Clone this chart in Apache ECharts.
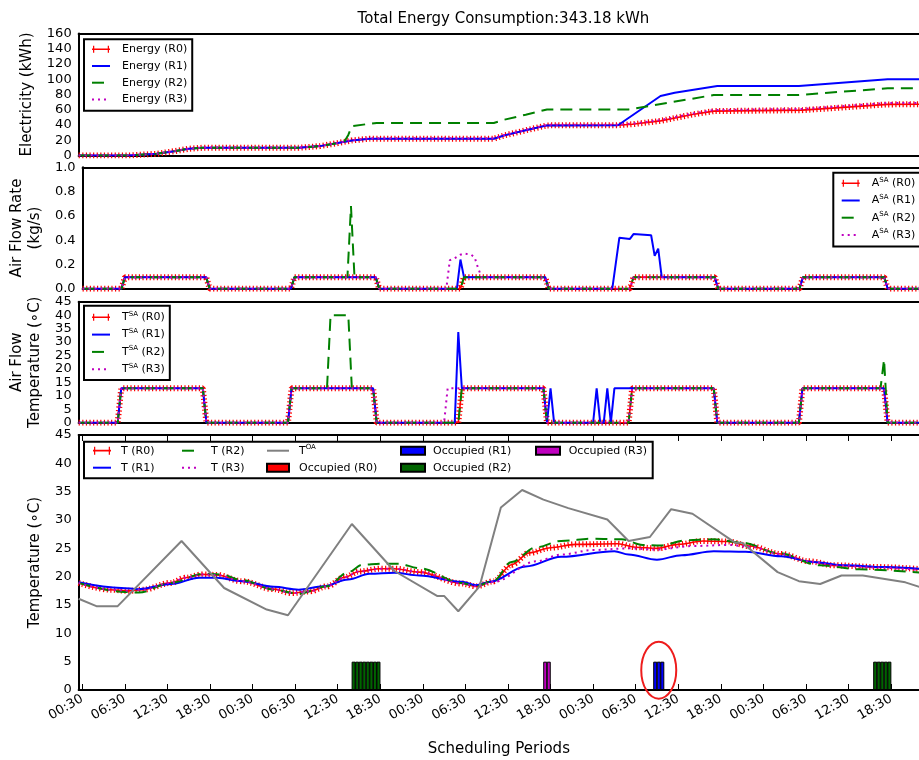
<!DOCTYPE html>
<html>
<head>
<meta charset="utf-8">
<script src="https://cdn.jsdelivr.net/npm/echarts@6/dist/echarts.min.js"></script>
<style>html,body{margin:0;padding:0;background:#fff}#main{width:919px;height:760px}</style>
</head>
<body>
<div id="main"></div>
<script>
// ---------- data (x = half-hour scheduling slot index, y = value) ----------
const slotMinutes = 30;
const visibleSlots = 236.85;    // part of the 5-day axis that is inside the picture
const labelEvery = 12;          // a tick label every 6 h
const labelOffset = 1;          // first label at 00:30
const lastLabelSlot = 229;
const titleText = 'Total Energy Consumption:343.18 kWh';

const energyR0 = [[0,0],[14,0],[22,2.2],[27,5.7],[31,8.8],[35,10.2],[62,10.2],[68,12.3],[73,16.3],[77,19.8],[82,22],[117,22],[120,26.4],[126,33],[132,39.5],[152,39.7],[156,41],[164,45.4],[173,53.8],[179,58.2],[204,59.5],[228,67],[240,67.3]];
const energyR1 = [[0,0],[14,0],[22,2.2],[27,5.7],[31,8.8],[35,10.2],[62,10.2],[68,12.3],[73,16.3],[77,19.8],[82,22],[117,22],[120,26.4],[126,33],[132,39.5],[152,39.7],[164,78],[168,82.4],[180,91.2],[203,91.2],[228,100],[240,100]];
const energyR2 = [[0,0],[14,0],[22,2.2],[27,5.7],[31,8.8],[35,10.2],[62,10.2],[68,12.3],[73,16.3],[75,19],[76,27],[77,38.3],[81,41],[84,42.7],[117,42.7],[120,47],[126,53.5],[132,60.4],[155,60.4],[179,79.3],[203,79.3],[228,88.2],[240,88.2]];
const energyR3 = [[0,0],[14,0],[22,2.3],[27,5.9],[31,9.1],[35,10.5],[62,10.5],[68,12.6],[73,16.6],[77,20.2],[82,22.5],[117,22.5],[120,27],[126,33.6],[132,40.2],[152,40.4],[156,41.8],[164,46.5],[173,55],[179,59.6],[204,61],[228,68.8],[240,69]];

const flowR0 = [[0,0],[11,0],[12,0.095],[35,0.095],[36,0],[59,0],[60,0.095],[83,0.095],[84,0],[107,0],[108,0.095],[131,0.095],[132,0],[155,0],[156,0.095],[179,0.095],[180,0],[203,0],[204,0.095],[227,0.095],[228,0],[240,0]];
const flowR1 = [[0,0],[11,0],[12,0.095],[35,0.095],[36,0],[59,0],[60,0.095],[83,0.095],[84,0],[106,0],[107,0.24],[108,0.095],[131,0.095],[132,0],[150,0],[152,0.42],[155,0.41],[156,0.45],[161,0.44],[162,0.27],[163,0.33],[164,0.095],[179,0.095],[180,0],[203,0],[204,0.095],[227,0.095],[228,0],[240,0]];
const flowR2 = [[0,0],[11,0],[12,0.095],[35,0.095],[36,0],[59,0],[60,0.095],[75,0.095],[76,0.68],[77,0.095],[83,0.095],[84,0],[107,0],[108,0.095],[131,0.095],[132,0],[155,0],[156,0.095],[179,0.095],[180,0],[203,0],[204,0.095],[227,0.095],[228,0],[240,0]];
const flowR3 = [[0,0],[11,0],[12,0.095],[35,0.095],[36,0],[59,0],[60,0.095],[83,0.095],[84,0],[103,0],[104,0.235],[105,0.245],[107,0.28],[108,0.29],[110,0.28],[111,0.26],[112,0.17],[113,0.095],[131,0.095],[132,0],[155,0],[156,0.095],[179,0.095],[180,0],[203,0],[204,0.095],[227,0.095],[228,0],[240,0]];

const tsaR0 = [[0,0],[11,0],[12,12.8],[35,12.8],[36,0],[59,0],[60,12.8],[83,12.8],[84,0],[107,0],[108,12.8],[131,12.8],[132,0],[155,0],[156,12.8],[179,12.8],[180,0],[203,0],[204,12.8],[227,12.8],[228,0],[240,0]];
const tsaR1 = [[0,0],[11,0],[12,12.8],[35,12.8],[36,0],[59,0],[60,12.8],[83,12.8],[84,0],[106,0],[107,33.7],[108,12.8],[131,12.8],[132,0],[133,12.8],[134,0],[145,0],[146,12.8],[147,0],[148,0],[149,12.8],[150,0],[151,12.8],[179,12.8],[180,0],[203,0],[204,12.8],[227,12.8],[228,0],[240,0]];
const tsaR2 = [[0,0],[11,0],[12,12.8],[35,12.8],[36,0],[59,0],[60,12.8],[70,12.8],[71,40],[76,40],[77,12.8],[83,12.8],[84,0],[107,0],[108,12.8],[131,12.8],[132,0],[155,0],[156,12.8],[179,12.8],[180,0],[203,0],[204,12.8],[226,12.8],[227,23.5],[228,0],[240,0]];
const tsaR3 = [[0,0],[11,0],[12,12.8],[35,12.8],[36,0],[59,0],[60,12.8],[83,12.8],[84,0],[103,0],[104,12.8],[131,12.8],[132,0],[155,0],[156,12.8],[179,12.8],[180,0],[203,0],[204,12.8],[227,12.8],[228,0],[240,0]];

const tempR0 = [[0,18.9],[9,17.7],[14,17.5],[18,17.7],[26,18.9],[30,19.8],[35,20.4],[39,20.3],[46,19.2],[55,17.8],[60,17.1],[65,17.4],[70,18.3],[75,19.9],[79,20.9],[85,21.4],[89,21.4],[96,20.8],[108,18.8],[112,18.3],[117,19.2],[122,22.1],[127,24.2],[133,25.1],[140,25.7],[152,25.8],[157,25.2],[163,25.0],[169,25.7],[176,26.3],[183,26.2],[189,25.4],[198,24.0],[206,22.7],[213,22.0],[225,21.7],[240,21.2]];
const tempR1 = [[0,19.0],[12,18.0],[17,17.8],[26,18.7],[34,19.8],[39,19.8],[46,19.2],[55,18.2],[62,17.7],[69,18.3],[76,19.5],[82,20.5],[89,20.7],[96,20.2],[108,19.1],[112,18.5],[116,19.1],[126,21.8],[136,23.5],[151,24.5],[155,23.9],[163,23.0],[170,23.8],[179,24.5],[188,24.4],[198,23.6],[207,22.6],[216,22.0],[227,21.7],[240,21.2]];
const tempR2 = [[0,18.9],[13,17.3],[17,17.2],[26,18.9],[35,20.5],[40,20.4],[46,19.4],[55,17.7],[62,17.0],[70,18.3],[76,20.8],[80,22.1],[85,22.3],[90,22.3],[96,21.5],[108,18.9],[112,18.3],[117,19.3],[122,22.6],[129,25.2],[136,26.3],[145,26.7],[153,26.6],[159,25.6],[164,25.5],[171,26.4],[179,26.6],[187,26.0],[197,24.2],[209,22.0],[220,21.3],[240,20.6]];
const tempR3 = [[0,18.9],[9,17.7],[14,17.5],[18,17.7],[26,18.9],[30,19.8],[35,20.4],[39,20.3],[46,19.2],[55,17.8],[60,17.1],[65,17.4],[70,18.3],[75,19.9],[79,20.9],[85,21.4],[89,21.4],[96,20.8],[108,18.8],[112,18.3],[117,19.1],[129,22.7],[136,23.9],[145,24.7],[155,25.0],[163,24.8],[173,25.4],[183,25.6],[189,25.3],[198,24.0],[206,22.7],[213,22.0],[225,21.6],[240,21.0]];
const tempOA = [[0,16.1],[5,14.8],[11,14.8],[29,26.3],[41,18.0],[53,14.2],[59,13.2],[77,29.3],[89,21.0],[101,16.6],[103,16.6],[107,13.9],[113,18.3],[119,32.2],[125,35.3],[131,33.6],[138,32.1],[149,30.1],[155,26.3],[161,27.0],[167,31.9],[173,31.1],[185,26.0],[187,26.0],[197,20.8],[203,19.2],[209,18.7],[215,20.2],[221,20.2],[233,19.0],[239,17.8],[240,17.5]];

const occupiedHeight = 5;
const occR0 = [];
const occR1 = [162,163,164];
const occR2 = [77,78,79,80,81,82,83,84,224,225,226,227,228];
const occR3 = [131,132];
const circled = {slot: 163, value: 3.5};   // annotated occupied period (R1)

// ---------- styling ----------
const FONT = 'DejaVu Sans';
const RED = '#ff0000', BLUE = '#0000ff', GREEN = '#008000', MAG = '#bf00bf', GRAY = '#808080';
const tickSlots = [];
for (let s = labelOffset; s <= lastLabelSlot; s += labelEvery) tickSlots.push(s);
const slotLabel = v => {
  const m = Math.round(v * slotMinutes) % 1440;
  return String(Math.floor(m / 60)).padStart(2, '0') + ':' + String(m % 60).padStart(2, '0');
};

const grids = [
  {top: 33.5, height: 122},
  {top: 167.3, height: 121.4},
  {top: 301.7, height: 121},
  {top: 435, height: 255}
].map(g => Object.assign({left: 78.65, right: 0}, g));

const SPINE = {show: true, onZero: false, lineStyle: {color: '#000', width: 2}};
function xAx(gi, pos, extra) {
  return Object.assign({type: 'value', gridIndex: gi, position: pos, min: 0, max: visibleSlots,
    axisLine: SPINE, axisTick: {show: false}, axisLabel: {show: false}, splitLine: {show: false}}, extra || {});
}
const tickStyle = {show: true, inside: true, length: 6, customValues: tickSlots, lineStyle: {color: '#000', width: 1}};
const xAxes = [
  xAx(0, 'bottom'), xAx(0, 'top'),
  xAx(1, 'bottom'), xAx(1, 'top'),
  xAx(2, 'bottom'), xAx(2, 'top'),
  xAx(3, 'bottom', {axisTick: tickStyle,
    axisLabel: {show: true, customValues: tickSlots, formatter: slotLabel, rotate: 30, margin: 8,
      fontSize: 13, color: '#000', fontFamily: FONT},
    name: 'Scheduling Periods', nameLocation: 'middle', nameGap: 52,
    nameTextStyle: {fontSize: 15, color: '#000', fontFamily: FONT}}),
  xAx(3, 'top', {axisTick: tickStyle})
];
const XI = [0, 2, 4, 6];

function yAx(gi, min, max, interval, name, gap, fmt) {
  return {type: 'value', gridIndex: gi, min, max, interval,
    axisLine: SPINE, axisTick: {show: false}, splitLine: {show: false},
    axisLabel: {fontSize: 13, color: '#000', margin: 7, fontFamily: FONT, formatter: fmt},
    name, nameLocation: 'middle', nameRotate: 90, nameGap: gap,
    nameTextStyle: {fontSize: 15, color: '#000', fontFamily: FONT, lineHeight: 18}};
}
const yAxes = [
  yAx(0, 0, 160, 20, 'Electricity (kWh)', 36),
  yAx(1, 0, 1, 0.2, 'Air Flow Rate\n(kg/s)', 35, v => v.toFixed(1)),
  yAx(2, 0, 45, 5, 'Air Flow\nTemperature (\u2218C)', 29),
  yAx(3, 0, 45, 5, 'Temperature (\u2218C)', 32)
];

const series = [];
function addLine(name, data, p, color, kind, smooth) {
  const base = {type: 'line', name, data, xAxisIndex: XI[p], yAxisIndex: p, symbol: 'none',
    smooth: smooth ? 0.35 : false, smoothMonotone: smooth ? 'x' : undefined, animation: false};
  if (kind === 'plus') {
    series.push(Object.assign({}, base, {lineStyle: {color, width: 1.6}, itemStyle: {color}}));
    series.push(Object.assign({}, base, {name: name + ' +', silent: true,
      lineStyle: {color, width: 6, type: [1.2, 2.4], cap: 'butt'}, itemStyle: {color}}));
  } else if (kind === 'dash') {
    series.push(Object.assign({}, base, {lineStyle: {color, width: 2, type: [12, 7], cap: 'butt'}, itemStyle: {color}}));
  } else if (kind === 'dot') {
    series.push(Object.assign({}, base, {lineStyle: {color, width: 2, type: [2, 4], cap: 'butt'}, itemStyle: {color}}));
  } else {
    series.push(Object.assign({}, base, {lineStyle: {color, width: 2}, itemStyle: {color}}));
  }
}
addLine('Energy (R0)', energyR0, 0, RED, 'plus');
addLine('Energy (R1)', energyR1, 0, BLUE, 'solid');
addLine('Energy (R2)', energyR2, 0, GREEN, 'dash');
addLine('Energy (R3)', energyR3, 0, MAG, 'dot');
addLine('ASA (R0)', flowR0, 1, RED, 'plus');
addLine('ASA (R1)', flowR1, 1, BLUE, 'solid');
addLine('ASA (R2)', flowR2, 1, GREEN, 'dash');
addLine('ASA (R3)', flowR3, 1, MAG, 'dot');
addLine('TSA (R0)', tsaR0, 2, RED, 'plus');
addLine('TSA (R1)', tsaR1, 2, BLUE, 'solid');
addLine('TSA (R2)', tsaR2, 2, GREEN, 'dash');
addLine('TSA (R3)', tsaR3, 2, MAG, 'dot');
addLine('T (R0)', tempR0, 3, RED, 'plus', true);
addLine('T (R1)', tempR1, 3, BLUE, 'solid', true);
addLine('T (R2)', tempR2, 3, GREEN, 'dash', true);
addLine('T (R3)', tempR3, 3, MAG, 'dot', true);
addLine('TOA', tempOA, 3, GRAY, 'solid');

const slotPx = 4;   // slightly wider than one slot so neighbouring bars touch
function addBars(name, slots, color) {
  // each occupied slot is a bar covering [slot, slot+1]
  series.push({type: 'bar', name, xAxisIndex: XI[3], yAxisIndex: 3, barWidth: slotPx, barGap: '-100%',
    data: slots.map(s => [s + 0.5, occupiedHeight]), animation: false,
    itemStyle: {color, borderColor: '#000', borderWidth: 1}});
}
addBars('Occupied (R0)', occR0, RED);
addBars('Occupied (R1)', occR1, BLUE);
addBars('Occupied (R2)', occR2, '#006400');
addBars('Occupied (R3)', occR3, MAG);

const plusIcon = 'path://M0,2.75H22V4.25H0Z M1.25,0H2.75V7H1.25Z M19.25,0H20.75V7H19.25Z';
const noSym = {opacity: 0};
const rich = {s: {fontSize: 7, lineHeight: 8, verticalAlign: 'top', color: '#000', fontFamily: FONT}};
const fmt = n => n.replace('ASA', 'A{s|SA}').replace('TSA', 'T{s|SA}').replace('TOA', 'T{s|OA}');
function txt(pad) { return {fontSize: 11, color: '#000', lineHeight: 14, fontFamily: FONT, padding: [0, 0, 0, pad], rich}; }
function lineItem(name) { return {name, itemStyle: noSym}; }
function boxLegend(left, top, padding, gap, names) {
  return {orient: 'vertical', left, top, padding, itemGap: gap, itemWidth: 18, itemHeight: 7,
    borderColor: '#000', borderWidth: 2, backgroundColor: '#fff', symbolKeepAspect: false,
    selectedMode: false, formatter: fmt, textStyle: txt(7),
    data: [{name: names[0], icon: plusIcon}, lineItem(names[1]), lineItem(names[2]), lineItem(names[3])]};
}
function colLegend(left, width, pad, items) {
  return {orient: 'vertical', left, top: 443.7, padding: 0, itemGap: 3, itemWidth: width, itemHeight: 8,
    symbolKeepAspect: false, selectedMode: false, formatter: fmt, textStyle: txt(pad), data: items, z: 5};
}
const legends = [
  boxLegend(84, 39.3, [3, 5, 4.3, 7], 2.7, ['Energy (R0)', 'Energy (R1)', 'Energy (R2)', 'Energy (R3)']),
  boxLegend(833.3, 172.7, [3.6, 6, 4.7, 7.4], 3.2, ['ASA (R0)', 'ASA (R1)', 'ASA (R2)', 'ASA (R3)']),
  boxLegend(84, 305.7, [4.6, 5, 3.7, 7], 3.3, ['TSA (R0)', 'TSA (R1)', 'TSA (R2)', 'TSA (R3)']),
  colLegend(92, 18, 5, [{name: 'T (R0)', icon: plusIcon}, lineItem('T (R1)')]),
  colLegend(181, 18, 6, [lineItem('T (R2)'), lineItem('T (R3)')]),
  colLegend(266, 22, 5, [lineItem('TOA'), {name: 'Occupied (R0)', icon: 'rect'}]),
  colLegend(400, 24, 3, [{name: 'Occupied (R1)', icon: 'rect'}, {name: 'Occupied (R2)', icon: 'rect'}]),
  colLegend(535, 24, 3.7, [{name: 'Occupied (R3)', icon: 'rect'}])
];

const legendBox = {type: 'rect', z: 3, shape: {x: 84, y: 441.7, width: 568.7, height: 36.6},
  style: {fill: '#fff', stroke: '#000', lineWidth: 2}};

const chart = echarts.init(document.getElementById('main'), null, {renderer: 'canvas', width: 919, height: 760});
chart.setOption({
  animation: false,
  backgroundColor: '#fff',
  textStyle: {fontFamily: FONT},
  title: {text: titleText, left: 503.5, textAlign: 'center', top: 12, padding: 0,
    textStyle: {fontSize: 15, fontWeight: 'normal', color: '#000', fontFamily: FONT}},
  grid: grids,
  xAxis: xAxes,
  yAxis: yAxes,
  legend: legends,
  series,
  graphic: [legendBox]
});
const c = chart.convertToPixel({xAxisIndex: XI[3], yAxisIndex: 3}, [circled.slot + 0.5, circled.value]);
chart.setOption({graphic: [legendBox,
  {type: 'ellipse', z: 10, shape: {cx: c[0], cy: c[1], rx: 17.5, ry: 28.5},
    style: {fill: 'none', stroke: '#ee1c1c', lineWidth: 2}}]});
</script>
</body>
</html>
